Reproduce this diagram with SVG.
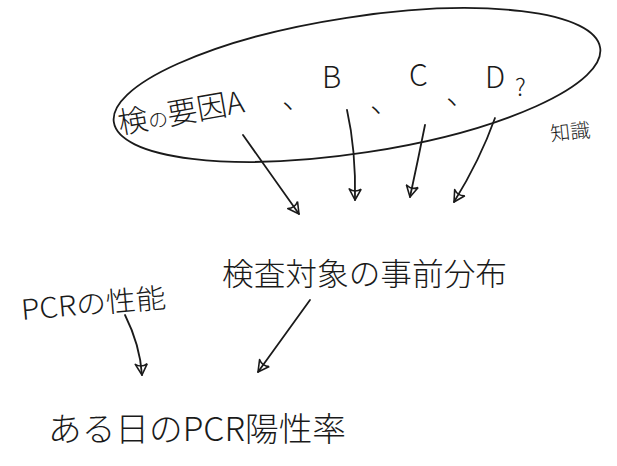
<svg xmlns="http://www.w3.org/2000/svg" width="617" height="466" viewBox="0 0 617 466">
<defs>
<style>
.ln{fill:none;stroke:#1a1a1a;stroke-width:1.8;stroke-linecap:round;stroke-linejoin:round}
.t{font-family:"Noto Sans CJK JP","Liberation Sans",sans-serif;fill:#1a1a1a;font-weight:300}
</style>
<marker id="ah" viewBox="0 0 14 14" refX="12" refY="7" markerWidth="14" markerHeight="14" markerUnits="userSpaceOnUse" orient="auto">
<path d="M1,1 L12,7 L1,13 Q5,7 1,1" fill="none" stroke="#1a1a1a" stroke-width="1.6" stroke-linejoin="round"/>
</marker>
</defs>
<rect width="617" height="466" fill="#ffffff"/>
<g id="knowledge">
<ellipse class="ln" cx="357" cy="85" rx="246" ry="68" transform="rotate(-8.7 357 85)"/>
<text class="t" font-size="30" transform="translate(120 134) rotate(-10)">検<tspan font-size="20">の</tspan>要因A</text>
<text class="t" font-size="30" x="282" y="108">、</text>
<text class="t" font-size="30" x="322" y="88">B</text>
<text class="t" font-size="30" x="370" y="112">、</text>
<text class="t" font-size="30" x="409" y="86">C</text>
<text class="t" font-size="30" x="446" y="104">、</text>
<text class="t" font-size="30" x="485" y="88">D</text>
<text class="t" font-size="24" x="515" y="96">?</text>
<text class="t" font-size="20" transform="translate(551 141) rotate(-6)">知識</text>
</g>
<g id="prior">
<text class="t" font-size="31" x="222" y="285" textLength="285" lengthAdjust="spacingAndGlyphs">検査対象の事前分布</text>
</g>
<g id="pcr-perf">
<text class="t" font-size="28" transform="translate(22 320) rotate(-5)" textLength="145" lengthAdjust="spacingAndGlyphs">PCRの性能</text>
</g>
<g id="positive-rate">
<text class="t" font-size="33" x="48" y="441" textLength="298" lengthAdjust="spacingAndGlyphs">ある日のPCR陽性率</text>
</g>
<g id="connectors">
<path class="ln" d="M243,135 L299,214" marker-end="url(#ah)"/>
<path class="ln" d="M347,110 Q356,150 355,200" marker-end="url(#ah)"/>
<path class="ln" d="M425,125 Q418,160 410,197" marker-end="url(#ah)"/>
<path class="ln" d="M495,118 Q480,160 454,202" marker-end="url(#ah)"/>
<path class="ln" d="M125,315 Q140,345 142,375" marker-end="url(#ah)"/>
<path class="ln" d="M310,300 L258,372" marker-end="url(#ah)"/>
</g>
</svg>
